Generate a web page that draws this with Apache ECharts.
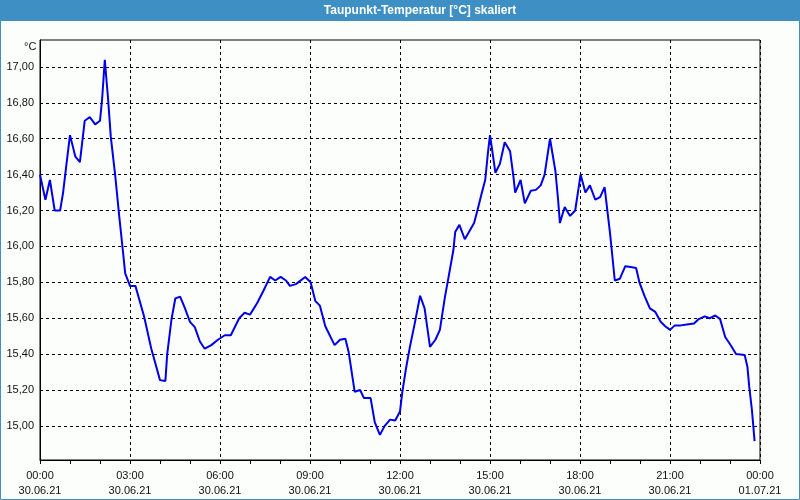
<!DOCTYPE html>
<html><head><meta charset="utf-8">
<script src="https://cdn.jsdelivr.net/npm/echarts@6/dist/echarts.min.js"></script>
<style>html,body{margin:0;padding:0;background:#fcfefc}#c{width:800px;height:500px}</style>
</head><body><div id="c"></div>
<script>
var titleText = 'Taupunkt-Temperatur [°C] skaliert';
var unitText = '°C';
// time in hours since 30.06.21 00:00
var hours = [0.00,0.18,0.33,0.49,0.67,0.77,0.89,1.00,1.18,1.33,1.49,1.66,1.84,2.00,2.07,2.16,2.27,2.36,2.51,2.64,2.76,2.84,3.00,3.18,3.47,3.71,4.00,4.18,4.24,4.38,4.51,4.67,4.82,5.00,5.16,5.33,5.49,5.71,5.93,6.16,6.36,6.64,6.82,7.00,7.24,7.44,7.67,7.84,8.02,8.20,8.33,8.53,8.84,9.02,9.18,9.33,9.51,9.82,10.00,10.18,10.29,10.49,10.67,10.80,11.02,11.16,11.33,11.49,11.67,11.84,12.00,12.07,12.20,12.33,12.49,12.67,12.82,13.00,13.18,13.33,13.50,13.62,13.78,13.84,13.98,14.16,14.47,14.58,14.73,14.84,14.93,15.00,15.07,15.18,15.33,15.49,15.67,15.78,15.84,16.02,16.16,16.36,16.53,16.69,16.82,16.91,17.00,17.18,17.27,17.33,17.49,17.67,17.84,18.02,18.18,18.33,18.51,18.67,18.82,19.00,19.16,19.33,19.51,19.69,19.87,19.98,20.16,20.33,20.51,20.69,20.84,21.00,21.16,21.36,21.56,21.80,21.96,22.16,22.33,22.51,22.67,22.84,23.04,23.20,23.49,23.58,23.64,23.73,23.82];
var dewpoint = [16.40,16.26,16.37,16.20,16.20,16.30,16.47,16.62,16.50,16.47,16.70,16.72,16.68,16.70,16.82,17.04,16.82,16.61,16.39,16.17,15.98,15.85,15.78,15.78,15.61,15.43,15.255,15.25,15.40,15.59,15.71,15.72,15.66,15.58,15.55,15.47,15.43,15.45,15.48,15.505,15.505,15.60,15.63,15.62,15.685,15.75,15.83,15.81,15.83,15.81,15.78,15.79,15.83,15.80,15.695,15.67,15.555,15.45,15.48,15.485,15.41,15.19,15.20,15.155,15.155,15.02,14.95,15.00,15.035,15.03,15.08,15.18,15.32,15.44,15.57,15.725,15.655,15.44,15.48,15.535,15.72,15.83,15.98,16.08,16.12,16.04,16.13,16.20,16.30,16.37,16.52,16.62,16.54,16.41,16.46,16.58,16.53,16.39,16.30,16.37,16.24,16.31,16.315,16.34,16.40,16.50,16.60,16.42,16.26,16.13,16.22,16.17,16.20,16.40,16.30,16.34,16.26,16.275,16.33,16.075,15.81,15.82,15.89,15.885,15.88,15.80,15.72,15.655,15.635,15.58,15.555,15.535,15.56,15.56,15.565,15.57,15.595,15.61,15.60,15.615,15.595,15.495,15.445,15.40,15.395,15.33,15.22,15.09,14.915];
var yTicks = [15.0,15.2,15.4,15.6,15.8,16.0,16.2,16.4,16.6,16.8,17.0];
var xTickHours = [0,3,6,9,12,15,18,21,24];
var xTickTimes = ['00:00','03:00','06:00','09:00','12:00','15:00','18:00','21:00','00:00'];
var xTickDates = ['30.06.21','30.06.21','30.06.21','30.06.21','30.06.21','30.06.21','30.06.21','30.06.21','01.07.21'];

var pts = hours.map(function(h,i){return [h, dewpoint[i]];});
var chart = echarts.init(document.getElementById('c'), null, {renderer:'canvas'});
var font = 'Liberation Sans';
chart.setOption({
  backgroundColor:'#fcfefc',
  animation:false,
  grid:{left:40,right:40,top:40,bottom:40,show:true,borderColor:'#000',borderWidth:1,backgroundColor:'transparent'},
  graphic:[
    {type:'rect',left:0,top:0,shape:{x:0,y:0,width:800,height:21},style:{fill:'#3d8fc4'},z:10},
    {type:'text',x:420,y:11,style:{text:titleText,fill:'#fff',font:'bold 12px '+font,textAlign:'center',textVerticalAlign:'middle'},z:11},
    {type:'rect',shape:{x:0.5,y:0.5,width:799,height:499},style:{fill:null,stroke:'#3d8fc4',lineWidth:1},z:10},
    {type:'text',x:24,y:41,style:{text:unitText,fill:'#111',font:'11px '+font},z:11}
  ],
  xAxis:{type:'value',min:0,max:24,interval:3,
    axisLine:{lineStyle:{color:'#000',width:1}},
    axisTick:{show:true,length:4,lineStyle:{color:'#000'}},
    minorTick:{show:true,splitNumber:3,length:4,lineStyle:{color:'#000'}},
    splitLine:{show:true,lineStyle:{color:'#000',type:[3,3],width:1}},
    axisLabel:{margin:8,color:'#111',fontFamily:font,fontSize:11,lineHeight:15,
      formatter:function(v){var i=xTickHours.indexOf(Math.round(v));return i<0?'':xTickTimes[i]+'\n'+xTickDates[i];}}
  },
  yAxis:{type:'value',min:14.81,max:17.15,
    axisLine:{show:true,lineStyle:{color:'#000',width:1}},
    axisTick:{show:true,length:0,customValues:yTicks},
    splitLine:{show:true,lineStyle:{color:'#000',type:[3,3],width:1}},
    axisLabel:{margin:6,color:'#111',fontFamily:font,fontSize:11,customValues:yTicks,
      formatter:function(v){return v.toFixed(2).replace('.',',');}}
  },
  series:[{type:'line',data:pts,showSymbol:false,symbol:'none',
    lineStyle:{color:'#0000e6',width:2},z:5}]
});
</script></body></html>
